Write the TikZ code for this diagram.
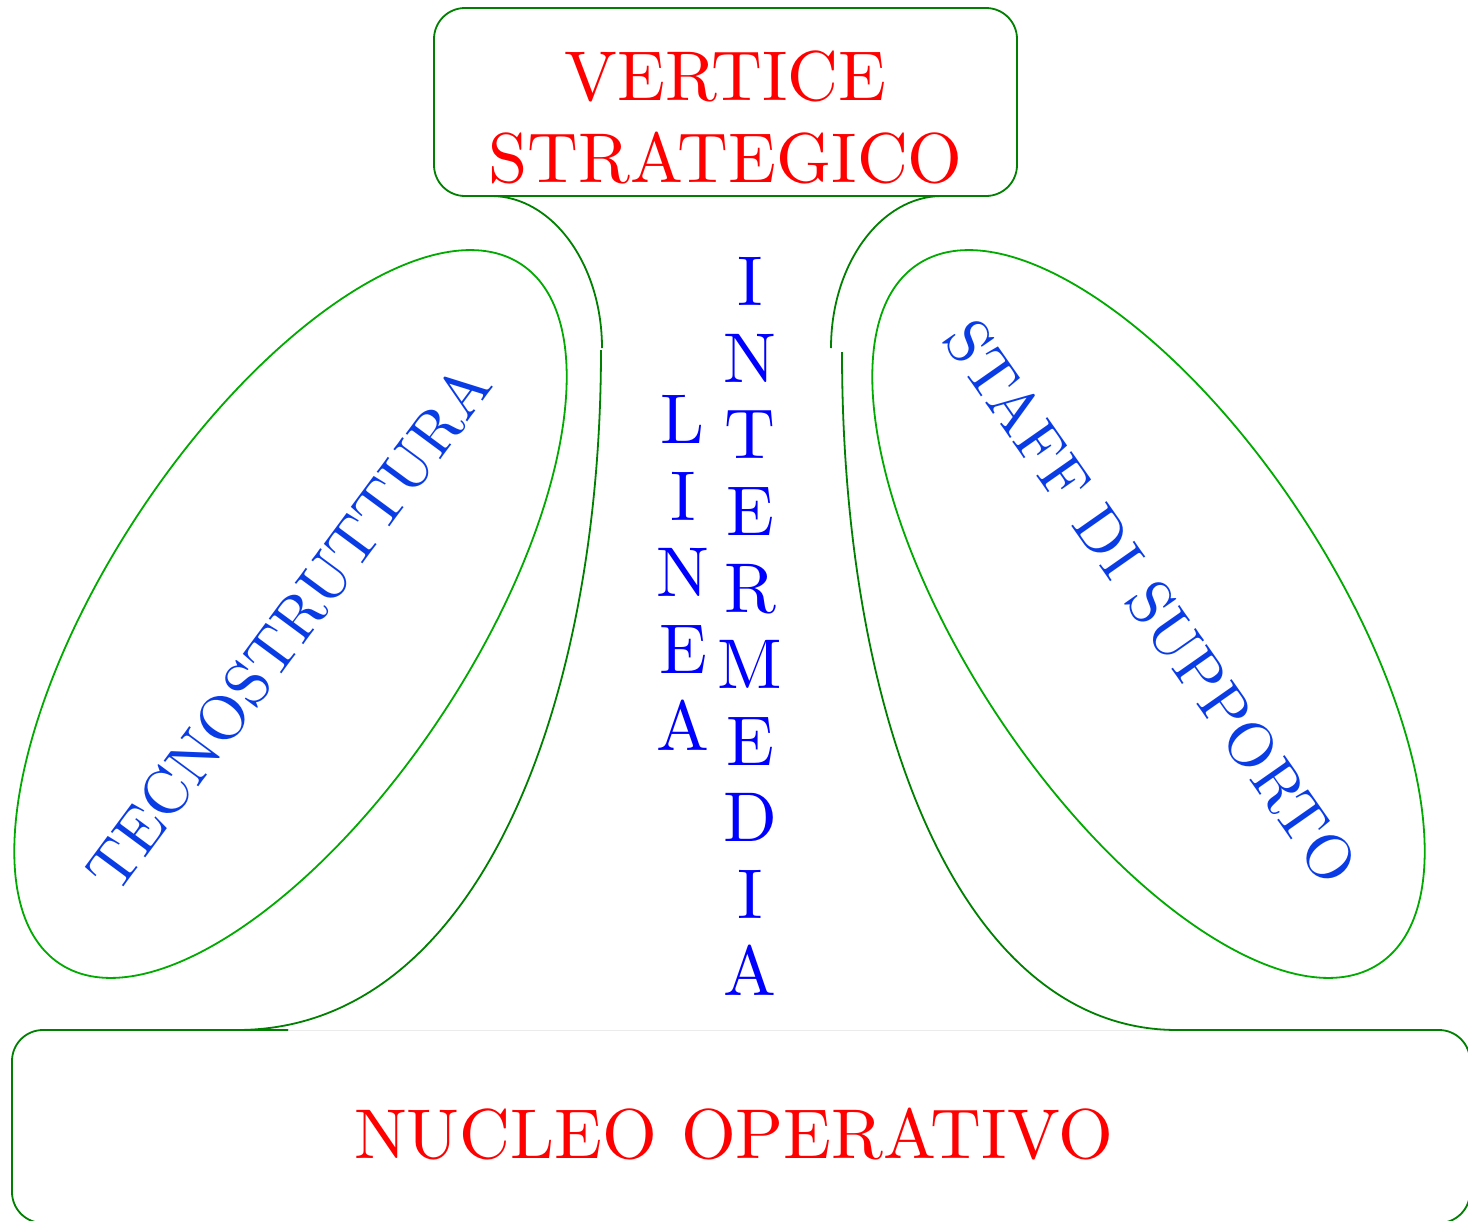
\documentclass[tikz,border=0pt]{standalone}
\usepackage{fontspec}
\newfontfamily\lmten{lmroman10-regular.otf}
\definecolor{boxgreen}{RGB}{0,128,0}
\definecolor{ellgreen}{RGB}{0,170,0}
\definecolor{rotblue}{RGB}{10,60,230}
\begin{document}
\begin{tikzpicture}[x=1pt,y=-1pt,
  boxline/.style={draw=boxgreen, line width=1.8pt, rounded corners=31pt},
  conn/.style={draw=boxgreen, line width=1.8pt},
  ell/.style={draw=ellgreen, line width=1.8pt},
  faint/.style={draw=black!8, line width=0.8pt},
  redtext/.style={text=red, inner sep=0pt, font=\lmten\fontsize{70.5}{82}\selectfont},
  colblue/.style={text=blue, inner sep=0pt, align=center, font=\lmten\fontsize{70.5}{76.6}\selectfont},
  rottext/.style={text=rotblue, inner sep=0pt, font=\lmten\fontsize{63}{70}\selectfont}]
\useasboundingbox (0,0) rectangle (1468,1221);
% top box
\node[boxline, minimum width=583pt, minimum height=188pt, inner sep=0pt] (vbox) at (725.5,102) {};
\node[redtext, align=center, anchor=base] (vtext) at (725.5,182) {VERTICE\\STRATEGICO};
% bottom box
\coordinate (nl) at (288,1030);
\coordinate (nr) at (1175,1030);
\draw[boxline] (nl) -- (12,1030) -- (12,1223) -- (1470,1223) -- (1470,1030) -- (nr);
\draw[faint] (nl) -- (nr);
\node[redtext, anchor=base] (ntext) at (733.5,1158) {NUCLEO OPERATIVO};
% connectors
\coordinate (a0) at (521,196);
\coordinate (a1) at (491,196);
\coordinate (a2) at (602,348);
\coordinate (b0) at (601,350);
\coordinate (b1) at (237,1030);
\draw[conn] (a0) -- (a1) .. controls (552,196) and (602,264) .. (a2);
\draw[conn] (b0) .. controls (601,700) and (480,1030) .. (b1) -- (nl);
\coordinate (c0) at (922,196);
\coordinate (c1) at (942,196);
\coordinate (c2) at (831,348);
\coordinate (d0) at (842,352);
\coordinate (d1) at (1177,1030);
\draw[conn] (c0) -- (c1) .. controls (881,196) and (831,264) .. (c2);
\draw[conn] (d0) .. controls (842,720) and (960,1030) .. (d1) -- (nr);
% ellipses
\draw[ell, rotate around={56.6:(290.5,614)}] (290.5,614) ellipse [x radius=419, y radius=182];
\draw[ell, rotate around={-56.6:(1148.5,614)}] (1148.5,614) ellipse [x radius=419, y radius=182];
\node[rottext, rotate=53.5] (tecno) at (288.5,628) {TECNOSTRUTTURA};
\node[rottext, rotate=-55] (staff) at (1151.5,602) {STAFF DI SUPPORTO};
% vertical columns
\node[colblue, anchor=base] (linea) at (683,750) {L\\I\\N\\E\\A};
\node[colblue, anchor=base] (inter) at (750,995) {I\\N\\T\\E\\R\\M\\E\\D\\I\\A};
\end{tikzpicture}
\end{document}
